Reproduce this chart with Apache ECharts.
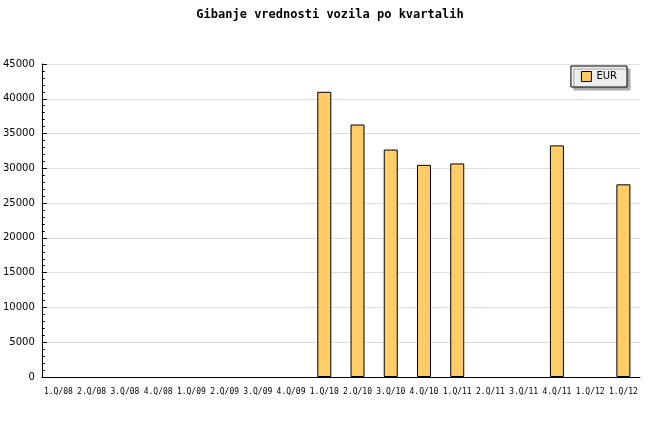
<!DOCTYPE html>
<html><head><meta charset="utf-8">
<script src="https://cdn.jsdelivr.net/npm/echarts@6/dist/echarts.min.js"></script>
<style>html,body{margin:0;padding:0;background:#fff}#c{width:660px;height:440px}</style>
</head><body><div id="c"></div>
<script>
const titleText = 'Gibanje vrednosti vozila po kvartalih';
const categories = ['1.Q/08','2.Q/08','3.Q/08','4.Q/08','1.Q/09','2.Q/09','3.Q/09','4.Q/09','1.Q/10','2.Q/10','3.Q/10','4.Q/10','1.Q/11','2.Q/11','3.Q/11','4.Q/11','1.Q/12','1.Q/12'];
const eurValues = [null,null,null,null,null,null,null,null,41000,36300,32700,30500,30700,null,null,33300,null,27700];
const seriesName = 'EUR';

const chart = echarts.init(document.getElementById('c'), null, {renderer:'canvas'});
chart.setOption({
  animation:false,
  backgroundColor:'#fff',
  title:{text:titleText,left:'center',top:4,textStyle:{fontFamily:'DejaVu Sans Mono',fontWeight:'bold',fontSize:12,color:'#000'}},
  legend:{
    right:33, top:66, orient:'vertical',
    backgroundColor:'#eeeeee', borderColor:'#000', borderWidth:1,
    shadowColor:'#aaaaaa', shadowOffsetX:3, shadowOffsetY:3, shadowBlur:0,
    padding:[5,10,5,10], itemWidth:10, itemHeight:10, itemGap:5,
    textStyle:{fontFamily:'DejaVu Sans',fontSize:10,color:'#000'},
    data:[{name:seriesName,icon:'rect',itemStyle:{color:'#ffcc66',borderColor:'#000',borderWidth:1}}]
  },
  grid:{left:40,right:20,top:64,bottom:63,containLabel:false},
  xAxis:{
    type:'category', data:categories, boundaryGap:true,
    axisLine:{lineStyle:{color:'#000',width:1}},
    axisTick:{inside:true,length:4,interval:0,lineStyle:{color:'#000'}},
    axisLabel:{interval:0,margin:11,fontFamily:'DejaVu Sans Mono',fontSize:8,color:'#000'},
    splitLine:{show:false}
  },
  yAxis:{
    type:'value', min:0, max:45000, interval:5000,
    axisLine:{show:true,lineStyle:{color:'#000',width:1}},
    axisTick:{show:true,inside:true,length:5,lineStyle:{color:'#000'}},
    minorTick:{show:true,splitNumber:5,length:3,lineStyle:{color:'#000'}},
    axisLabel:{margin:7,fontFamily:'DejaVu Sans',fontSize:10,color:'#000',formatter:function(v){return String(v);}},
    splitLine:{show:true,lineStyle:{color:'#dddddd',width:1}}
  },
  series:[{
    name:seriesName, type:'bar', data:eurValues, barWidth:14,
    itemStyle:{color:'#ffcc66',borderColor:'#000',borderWidth:1}
  }]
});
</script></body></html>
